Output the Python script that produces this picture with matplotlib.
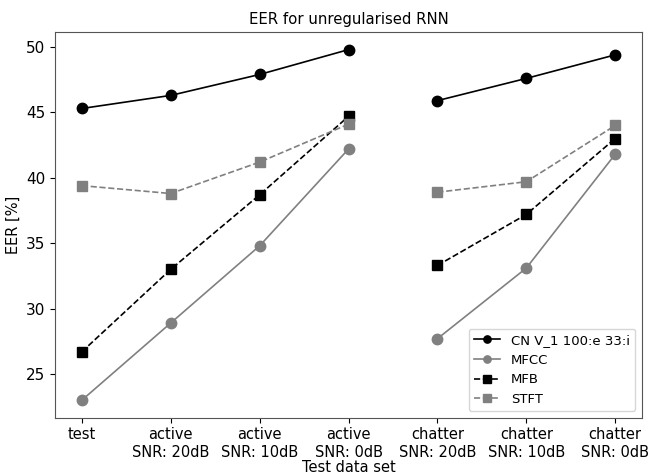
import numpy as np
import matplotlib
matplotlib.use('Agg')
import matplotlib.pyplot as plt

labels = ['test', 'active\nSNR: 20dB', 'active\nSNR: 10dB', 'active\nSNR: 0dB',
          'chatter\nSNR: 20dB', 'chatter\nSNR: 10dB', 'chatter\nSNR: 0dB']

# first 4 points: test + active, last 3: chatter
cnv = [45.3, 46.3, 47.9, 49.8, 45.9, 47.6, 49.4]
mfcc = [23.0, 28.9, 34.8, 42.2, 27.7, 33.1, 41.8]
mfb = [26.7, 33.0, 38.7, 44.7, 33.3, 37.2, 43.0]
stft = [39.4, 38.8, 41.2, 44.1, 38.9, 39.7, 44.0]

series = [
    ('CN V_1 100:e 33:i', cnv, 'black', '-', 'o'),
    ('MFCC', mfcc, 'grey', '-', 'o'),
    ('MFB', mfb, 'black', '--', 's'),
    ('STFT', stft, 'grey', '--', 's'),
]

fig = plt.figure(figsize=(6.49, 4.72), dpi=100)
ax = fig.add_subplot(111)
x = np.arange(len(labels))
for name, y, c, ls, m in series:
    ax.plot(x[:4], y[:4], color=c, linestyle=ls, marker=m, markersize=7.5,
            linewidth=1.2, label=name)
    ax.plot(x[4:], y[4:], color=c, linestyle=ls, marker=m, markersize=7.5,
            linewidth=1.2)

ax.set_xticks(x)
ax.set_xticklabels(labels, fontsize=10.5)
ax.tick_params(axis='y', labelsize=11)
ax.set_title('EER for unregularised RNN', fontsize=10.7)
ax.set_xlabel('Test data set', fontsize=10.5, labelpad=0)
ax.set_ylabel('EER [%]', fontsize=10.5)
ax.legend(loc='lower right', fontsize=9.5, markerscale=0.7)
for s in ax.spines.values():
    s.set_color('#555555')
fig.subplots_adjust(left=0.085, right=0.989, top=0.932, bottom=0.115)
plt.savefig('out.png')
